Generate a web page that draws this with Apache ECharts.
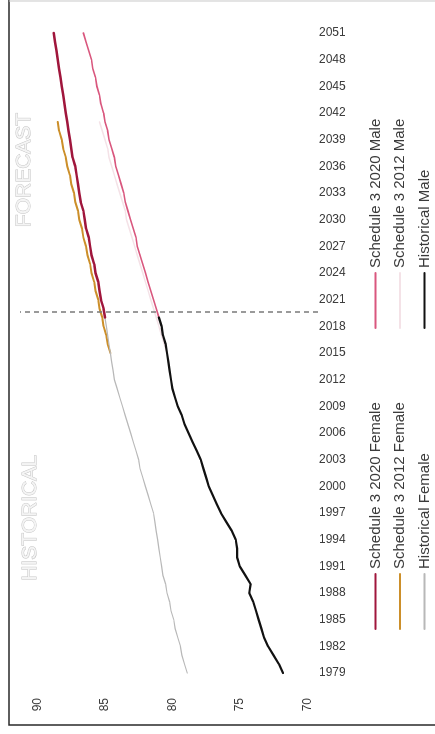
<!DOCTYPE html>
<html>
<head>
<meta charset="utf-8">
<script src="https://cdn.jsdelivr.net/npm/echarts@6.0.0/dist/echarts.min.js"></script>
<style>
html,body{margin:0;padding:0;width:435px;height:734px;overflow:hidden;background:#fff;}
#chart{position:absolute;left:0;top:0;width:734px;height:435px;transform-origin:0 0;transform:translate(0,734px) rotate(-90deg);}
</style>
</head>
<body>
<div id="chart"></div>
<script>
// ---- data ----
const YEAR_TICKS = [1979,1982,1985,1988,1991,1994,1997,2000,2003,2006,2009,2012,2015,2018,2021,2024,2027,2030,2033,2036,2039,2042,2045,2048,2051];
const VALUE_TICKS = [70,75,80,85,90];
const FORECAST_START = 2019.6;

const HIST_START = 1979;
const HIST_MALE = [71.8,72.1,72.5,72.9,73.2,73.4,73.6,73.8,74.0,74.3,74.2,74.6,75.0,75.2,75.2,75.3,75.6,76.0,76.4,76.7,77.0,77.3,77.5,77.7,77.9,78.2,78.5,78.8,79.1,79.3,79.6,79.8,80.0,80.1,80.2,80.3,80.4,80.5,80.7,80.8,81.0];
const HIST_FEMALE = [78.9,79.1,79.3,79.4,79.6,79.8,79.9,80.1,80.2,80.4,80.5,80.7,80.8,80.9,81.0,81.1,81.2,81.3,81.4,81.6,81.8,82.0,82.2,82.4,82.5,82.7,82.9,83.1,83.3,83.5,83.7,83.9,84.1,84.3,84.4,84.5,84.6,84.7,84.8,84.9,85.0];

const S2020_START = 2019;
const S2020_MALE = [81.0,81.2,81.4,81.6,81.8,82.0,82.2,82.4,82.6,82.7,82.9,83.1,83.3,83.5,83.6,83.8,84.0,84.2,84.3,84.5,84.7,84.8,85.0,85.1,85.3,85.4,85.6,85.7,85.9,86.0,86.2,86.4,86.6];
const S2020_FEMALE = [85.0,85.1,85.3,85.4,85.5,85.7,85.8,86.0,86.1,86.2,86.4,86.5,86.6,86.8,86.9,87.0,87.1,87.2,87.4,87.5,87.6,87.7,87.8,87.9,88.0,88.1,88.2,88.3,88.4,88.5,88.6,88.7,88.8];

const S2012_START = 2015;
const S2012_MALE = [80.4,80.6,80.8,81.0,81.2,81.4,81.6,81.8,82.0,82.2,82.4,82.6,82.8,83.0,83.2,83.4,83.5,83.7,83.9,84.1,84.3,84.5,84.7,84.8,85.0,85.2,85.4];
const S2012_FEMALE = [84.6,84.8,84.9,85.1,85.2,85.4,85.5,85.7,85.8,86.0,86.1,86.3,86.4,86.6,86.7,86.9,87.0,87.2,87.3,87.5,87.6,87.8,87.9,88.1,88.2,88.4,88.5];

const NAMES = {
  s20f: 'Schedule 3 2020 Female', s20m: 'Schedule 3 2020 Male',
  s12f: 'Schedule 3 2012 Female', s12m: 'Schedule 3 2012 Male',
  hf: 'Historical Female', hm: 'Historical Male'
};

function pairs(start, vals){ return vals.map((v,i)=>[start+i, v]); }

const FONT = 'Liberation Sans, Arial, sans-serif';
const TXT = '#3a3a3a';

function lineSeries(name, start, vals, color, width, extra){
  return Object.assign({
    type:'line', name:name, data:pairs(start, vals),
    symbol:'none', showSymbol:false, smooth:false, silent:true,
    lineStyle:{color:color, width:width, cap:'round', join:'round'},
    itemStyle:{color:color}
  }, extra||{});
}

const legendBase = {
  orient:'vertical', top:368, padding:0, itemWidth:55, itemHeight:15, itemGap:9.5, selectedMode:false,
  itemStyle:{color:'rgba(0,0,0,0)', borderColor:'rgba(0,0,0,0)', borderWidth:0, opacity:0},
  textStyle:{fontSize:15, fontFamily:FONT, color:TXT}
};

const chart = echarts.init(document.getElementById('chart'), null, {renderer:'canvas'});
chart.setOption({
  backgroundColor:'#ffffff',
  animation:false,
  grid:{left:61, right:33, top:20, bottom:117},
  xAxis:{
    type:'value', min:1979, max:2051,
    axisLine:{show:false}, axisTick:{show:false}, splitLine:{show:false},
    axisLabel:{customValues:YEAR_TICKS, rotate:-90, margin:1, fontSize:12, fontFamily:FONT, color:TXT,
      formatter:v=>String(v)}
  },
  yAxis:{
    type:'value', min:69.2, max:91.3,
    axisLine:{show:false}, axisTick:{show:false}, splitLine:{show:false},
    axisLabel:{customValues:VALUE_TICKS, margin:25, fontSize:12, fontFamily:FONT, color:TXT}
  },
  legend:[
    Object.assign({}, legendBase, {left:104, data:[NAMES.s20f, NAMES.s12f, NAMES.hf]}),
    Object.assign({}, legendBase, {left:405, data:[NAMES.s20m, NAMES.s12m, NAMES.hm]})
  ],
  graphic:[
    {type:'polyline', silent:true, shape:{points:[[9,435],[9,9],[734,9]]}, style:{stroke:'#2a2a2a', lineWidth:1.5, fill:null}},
    {type:'line', silent:true, shape:{x1:733,y1:9,x2:733,y2:435}, style:{stroke:'#c8c8c8', lineWidth:1}},
    {type:'text', silent:true, x:216, y:30, style:{text:'HISTORICAL', font:'21px '+FONT, fill:'#f4f4f4', stroke:'#c4c4c4', lineWidth:1, align:'center', verticalAlign:'middle'}},
    {type:'text', silent:true, x:564, y:24, style:{text:'FORECAST', font:'21px '+FONT, fill:'#f4f4f4', stroke:'#c4c4c4', lineWidth:1, align:'center', verticalAlign:'middle'}}
  ],
  series:[
    lineSeries(NAMES.s12m, S2012_START, S2012_MALE, '#f4e2e7', 1.5),
    lineSeries(NAMES.s12f, S2012_START, S2012_FEMALE, '#cc8f2a', 2),
    lineSeries(NAMES.hf, HIST_START, HIST_FEMALE, '#b8b8b8', 1.2),
    lineSeries(NAMES.s20m, S2020_START, S2020_MALE, '#d9577e', 1.6),
    lineSeries(NAMES.s20f, S2020_START, S2020_FEMALE, '#a0163c', 2.5),
    lineSeries(NAMES.hm, HIST_START, HIST_MALE, '#111111', 2.2, {
      markLine:{silent:true, symbol:'none', label:{show:false},
        lineStyle:{type:[5,4], color:'#7a7a7a', width:1.5},
        data:[{xAxis:FORECAST_START}]}
    })
  ]
});
</script>
</body>
</html>
